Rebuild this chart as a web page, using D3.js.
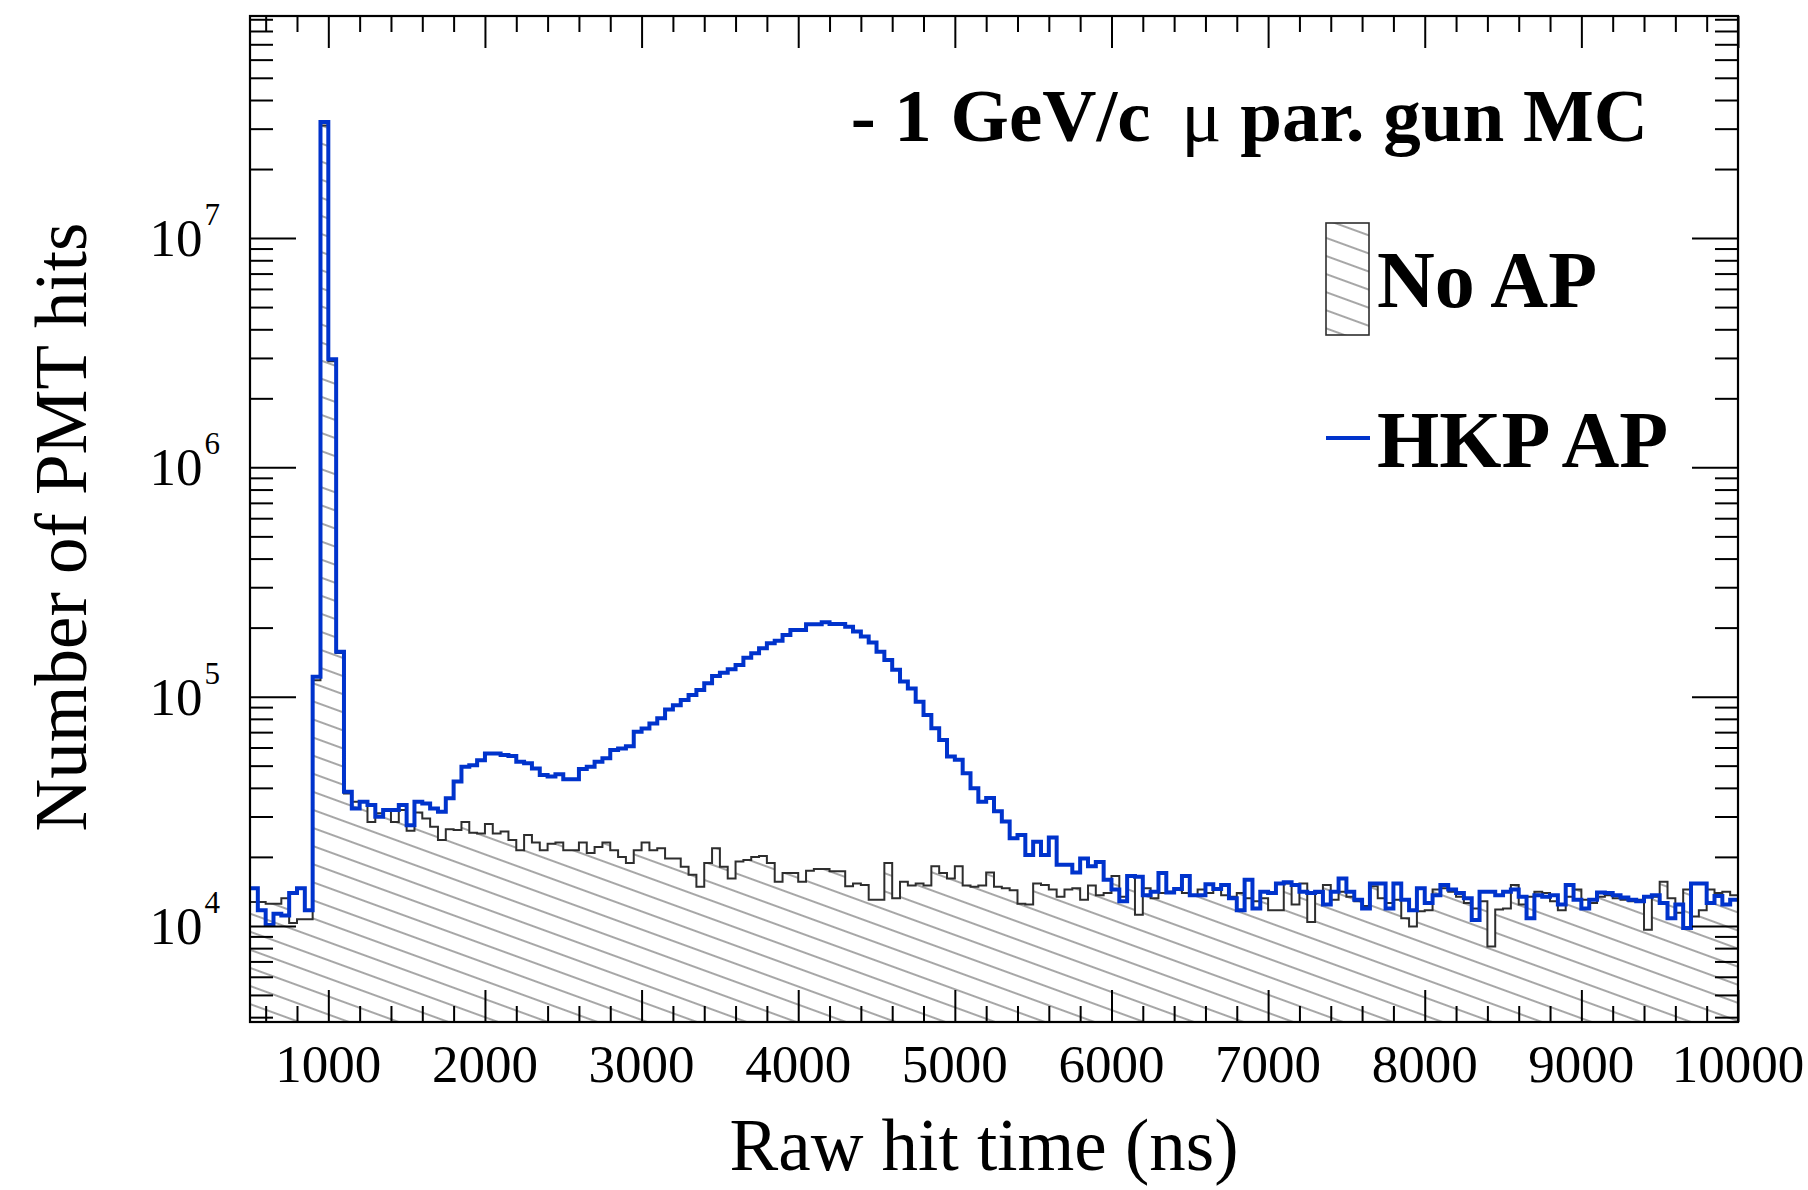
<!DOCTYPE html>
<html><head><meta charset="utf-8">
<script src="https://cdn.jsdelivr.net/npm/d3@7"></script>
<style>html,body{margin:0;padding:0;background:#fff;} svg{display:block;}</style>
</head><body>
<svg id="c" width="1808" height="1190"></svg>
<script>
// ---------- data ----------
const binLow = d3.range(500, 10000, 50); // 190 bins of 50 ns
const noAP = [
 12700,12700,12500,12500,13200,10300,10700,10700,
 118000,31000000,2900000,155000,
 37800,34800,34800,28400,31000,32000,28400,32000,
 26000,31200,29400,27100,23700,26400,26200,28400,
 25500,25300,27800,25300,25800,23700,21400,24900,
 23100,21400,22800,23100,21400,21400,23100,20800,
 22100,23100,21400,20000,18800,21400,23100,21400,
 21800,19700,19700,18100,16700,14800,18800,21800,
 18100,16100,19100,19400,20000,20200,18800,15600,
 17000,17000,15600,17400,17700,17700,17300,17300,
 14900,15300,15100,13000,13000,18800,13200,15600,
 15000,15300,15000,18200,17000,16100,18200,15000,
 14800,15000,17100,14800,14600,14300,12500,12400,
 15300,15100,14400,13400,14400,14600,13000,15000,
 13600,13900,16500,13400,16400,11200,14600,13200,
 13900,14100,14400,13900,13600,14400,13900,14400,
 13600,13400,13900,13200,12800,13200,11700,11700,
 15300,12400,15300,10400,13900,15100,13000,14100,
 13400,12800,12200,14900,13200,12600,13000,10800,
 9930,11600,11700,14400,14600,14100,13400,12600,
 11900,12800,8130,11800,11900,15100,12400,13400,
 14100,13900,12800,11700,13400,14400,13000,12600,
 13400,13600,13200,13000,12800,13000,9620,13400,
 15600,13200,11400,14400,11000,11700,14400,13900,
 14100,13600
];
const hkpAP = [
 14600,11700,10100,11300,11100,13900,14600,11700,
 122000,32100000,2960000,157000,
 38500,32500,34800,33700,29900,32000,32000,33700,
 27500,34800,34200,32500,31500,36000,42600,49400,
 50200,52800,56500,56500,55600,55100,52000,51200,
 48600,45500,44800,45900,43600,43600,48300,49400,
 52000,53800,58500,59400,60800,70300,72600,76400,
 80400,87900,91800,96600,101600,106900,114300,123000,
 127000,131500,137400,147900,154500,162600,171000,175400,
 185800,195400,195400,207000,207000,210900,207500,207500,
 201800,192300,182800,172200,157000,144500,130900,116400,
 108600,95100,83200,72800,64700,54800,53000,46300,
 39800,34800,36100,31600,28500,24100,24900,20400,
 23300,20400,24300,18500,18500,17100,19700,18200,
 19000,15900,14400,12800,16500,16400,13600,14100,
 17000,14000,14500,16500,13600,13600,15200,14500,
 15100,13200,11700,15900,11900,14100,13900,15300,
 15500,15100,14100,13900,14100,12400,14100,16100,
 14100,13000,11900,15300,15300,11900,15300,13000,
 11700,14600,12600,13600,15100,14400,13900,13200,
 10600,14100,14100,13600,14100,14400,13400,10800,
 13600,13400,13600,12400,15100,13000,11900,13000,
 14000,13900,13600,13300,13000,12800,13400,13600,
 12600,10800,12400,9800,15300,15300,12600,13500,
 12400,13000
];
const xTickValues = [1000,2000,3000,4000,5000,6000,7000,8000,9000,10000];
const yDecades = [4,5,6,7];
const seriesNames = ["No AP", "HKP AP"];
const xTitle = "Raw hit time (ns)";
const yTitle = "Number of PMT hits";
const titlePre = "- 1 GeV/c ", titleMu = "\u03bc", titlePost = " par. gun MC";

// ---------- layout ----------
const L = 250, R = 1738, T = 16, B = 1022;
const font = "'Liberation Serif','Times New Roman',Times,serif";
const blue = "#0033cc", dark = "#2e2e2e";

const svg = d3.select("#c");
const defs = svg.append("defs");
const pat = defs.append("pattern").attr("id","hatch")
  .attr("patternUnits","userSpaceOnUse").attr("width",60).attr("height",17)
  .attr("patternTransform","rotate(20)");
pat.append("line").attr("x1",0).attr("x2",60).attr("y1",8).attr("y2",8)
  .attr("stroke","#8a8a8a").attr("stroke-width",1.4);
defs.append("clipPath").attr("id","clip").append("rect")
  .attr("x",L).attr("y",T).attr("width",R-L).attr("height",B-T);

const x = d3.scaleLinear().domain([500,10000]).range([L,R]);
const y = d3.scaleLog().domain([3810, 9.3e7]).range([B,T]);

function pts(vals){
  const p = binLow.map((b,i)=>[b, vals[i]]);
  p.push([10000, vals[vals.length-1]]);
  return p;
}
const g = svg.append("g").attr("clip-path","url(#clip)");

const area = d3.area().x(d=>x(d[0])).y0(B).y1(d=>y(d[1])).curve(d3.curveStepAfter);
const line = d3.line().x(d=>x(d[0])).y(d=>y(d[1])).curve(d3.curveStepAfter);
g.append("path").datum(pts(noAP)).attr("d",area).attr("fill","url(#hatch)").attr("stroke","none");
g.append("path").datum(pts(noAP)).attr("d",line).attr("fill","none")
  .attr("stroke",dark).attr("stroke-width",2);
g.append("path").datum(pts(hkpAP)).attr("d",line).attr("fill","none")
  .attr("stroke",blue).attr("stroke-width",4).attr("stroke-linejoin","miter");

// ---------- axes ----------
const xMinor = d3.range(600, 10000, 200).filter(v=>v%1000!==0);
const yMinor = [];
[3,4,5,6,7].forEach(d=>{ for(let k=2;k<=9;k++){const v=k*Math.pow(10,d); if(v>=3810 && v<=9.3e7) yMinor.push(v);} });
const yMajor = yDecades.map(d=>Math.pow(10,d));

function styleAxis(sel){
  sel.select(".domain").remove();
  sel.selectAll(".tick line").attr("stroke","#000").attr("stroke-width",2);
  sel.selectAll(".tick text").remove();
}
svg.append("g").attr("transform",`translate(0,${B})`)
  .call(d3.axisBottom(x).tickValues(xTickValues).tickSize(-32)).call(styleAxis);
svg.append("g").attr("transform",`translate(0,${B})`)
  .call(d3.axisBottom(x).tickValues(xMinor).tickSize(-16)).call(styleAxis);
svg.append("g").attr("transform",`translate(0,${T})`)
  .call(d3.axisTop(x).tickValues(xTickValues).tickSize(-32)).call(styleAxis);
svg.append("g").attr("transform",`translate(0,${T})`)
  .call(d3.axisTop(x).tickValues(xMinor).tickSize(-16)).call(styleAxis);
svg.append("g").attr("transform",`translate(${L},0)`)
  .call(d3.axisLeft(y).tickValues(yMajor).tickSize(-46)).call(styleAxis);
svg.append("g").attr("transform",`translate(${L},0)`)
  .call(d3.axisLeft(y).tickValues(yMinor).tickSize(-23)).call(styleAxis);
svg.append("g").attr("transform",`translate(${R},0)`)
  .call(d3.axisRight(y).tickValues(yMajor).tickSize(-46)).call(styleAxis);
svg.append("g").attr("transform",`translate(${R},0)`)
  .call(d3.axisRight(y).tickValues(yMinor).tickSize(-23)).call(styleAxis);

svg.append("rect").attr("x",L).attr("y",T).attr("width",R-L).attr("height",B-T)
  .attr("fill","none").attr("stroke","#000").attr("stroke-width",2.2);

// x tick labels
svg.append("g").selectAll("text").data(xTickValues).join("text")
  .attr("x",d=>x(d)).attr("y",1082).attr("text-anchor","middle")
  .attr("font-family",font).attr("font-size",53).attr("fill","#000").text(d=>d);

// y tick labels 10^n
const yl = svg.append("g").selectAll("text").data(yDecades).join("text")
  .attr("x",220).attr("y",d=>y(Math.pow(10,d))+18).attr("text-anchor","end")
  .attr("font-family",font).attr("fill","#000");
yl.append("tspan").attr("font-size",53).text("10");
yl.append("tspan").attr("font-size",31).attr("dy",-31).attr("dx",2).text(d=>d);

// axis titles
svg.append("text").attr("x",984).attr("y",1170).attr("text-anchor","middle")
  .attr("font-family",font).attr("font-size",73).attr("fill","#000").text(xTitle);
svg.append("text").attr("transform","translate(86,527) rotate(-90)").attr("text-anchor","middle")
  .attr("font-family",font).attr("font-size",73).attr("fill","#000").text(yTitle);

// title
const tt = svg.append("text").attr("x",1648).attr("y",141).attr("text-anchor","end")
  .attr("font-family",font).attr("font-size",75).attr("font-weight","bold").attr("fill","#000");
tt.append("tspan").text(titlePre);
tt.append("tspan").attr("font-weight","normal").attr("dx",12).text(titleMu);
tt.append("tspan").text(titlePost);

// legend
svg.append("rect").attr("x",1326).attr("y",223).attr("width",43).attr("height",112)
  .attr("fill","url(#hatch)").attr("stroke",dark).attr("stroke-width",1.6);
svg.append("line").attr("x1",1326).attr("x2",1370).attr("y1",438).attr("y2",438)
  .attr("stroke",blue).attr("stroke-width",4);
svg.append("text").attr("x",1377).attr("y",307).attr("font-family",font).attr("font-size",80)
  .attr("font-weight","bold").attr("fill","#000").text(seriesNames[0]);
svg.append("text").attr("x",1377).attr("y",467).attr("font-family",font).attr("font-size",80)
  .attr("font-weight","bold").attr("fill","#000").text(seriesNames[1]);
</script>
</body></html>
